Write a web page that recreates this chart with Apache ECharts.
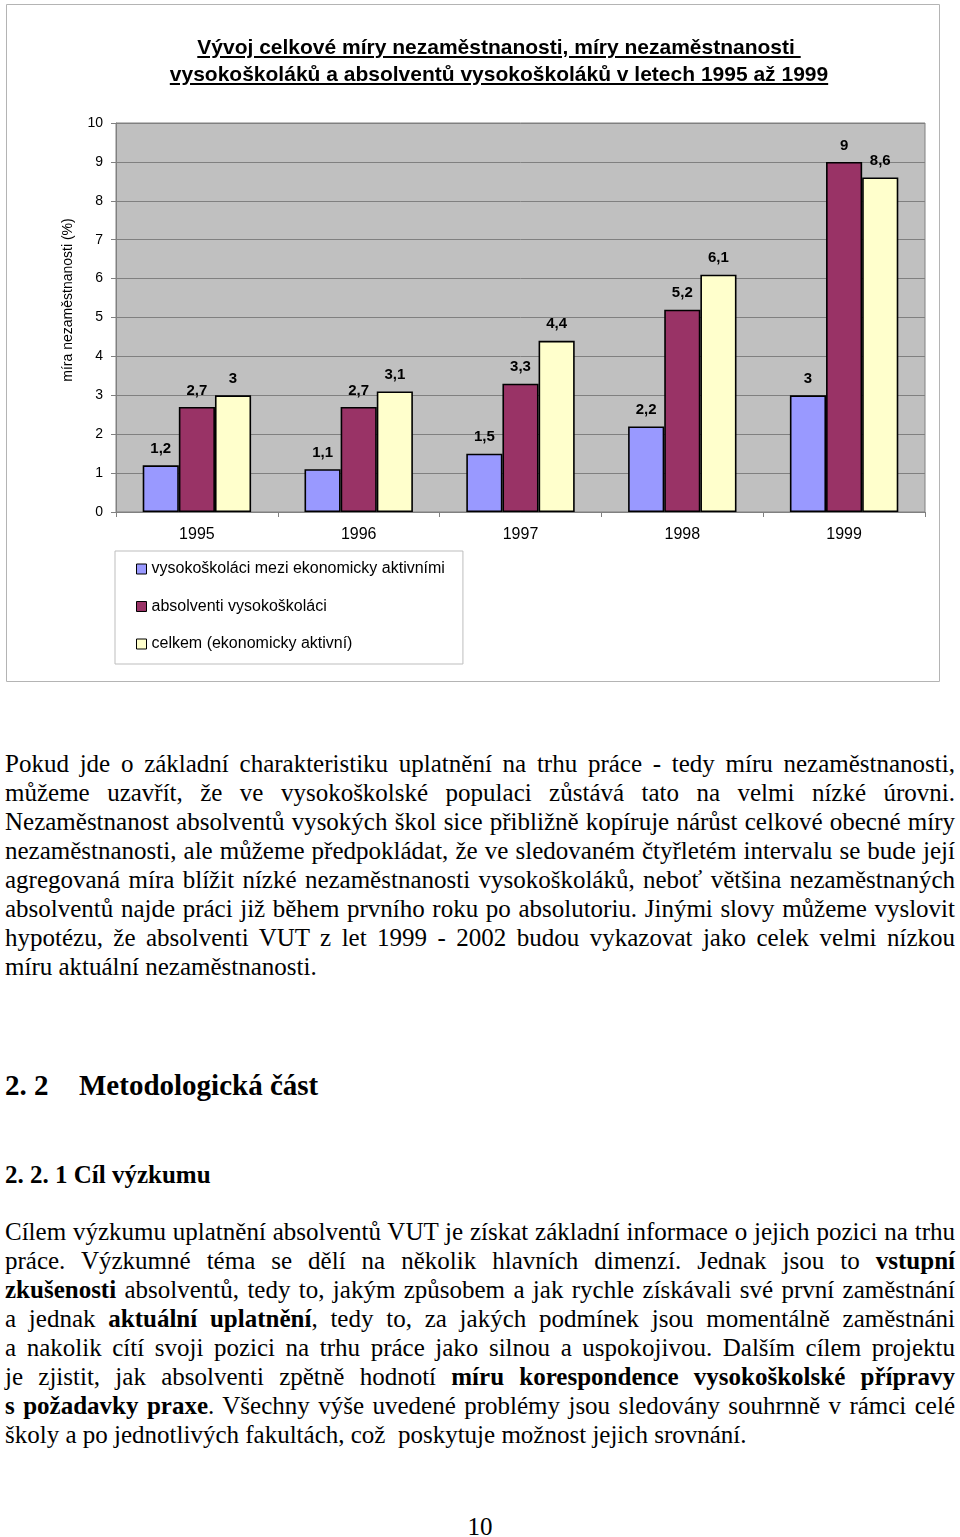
<!DOCTYPE html>
<html>
<head>
<meta charset="utf-8">
<script src="https://cdn.jsdelivr.net/npm/echarts@6/dist/echarts.min.js"></script>
<style>
  html, body { margin: 0; padding: 0; background: #fff; }
  body { width: 960px; height: 1537px; position: relative; overflow: hidden; }
  #chart { position: absolute; left: 0; top: 0; width: 960px; height: 700px; }
  #title { position: absolute; left: 149px; width: 700px; top: 33px; text-align: center;
           font-family: "Liberation Sans", Arial, sans-serif; font-weight: bold; font-size: 21px;
           line-height: 27px; text-decoration: underline; color: #000; white-space: nowrap; }
  .blk { position: absolute; left: 5px; width: 950px; font-family: "Liberation Serif", "Times New Roman", serif; color: #000; }
  .ln { font-size: 25px; line-height: 29px; height: 29px; white-space: nowrap; }
  .ln span { display: inline-block; transform-origin: 0 0; white-space: pre; }
  .h2 { font-size: 29px; line-height: 34px; font-weight: bold; white-space: nowrap; }
  .h2 .num { display: inline-block; width: 74px; }
  .h3 { font-size: 25px; line-height: 29px; font-weight: bold; white-space: nowrap; }
  #pg { position: absolute; left: 0; width: 960px; text-align: center; font-family: "Liberation Serif", "Times New Roman", serif; font-size: 25px; line-height: 29px; }
</style>
</head>
<body>
<div id="chart"></div>
<div id="title">Vývoj celkové míry nezaměstnanosti, míry nezaměstnanosti&nbsp;<br>vysokoškoláků a absolventů vysokoškoláků v letech 1995 až 1999</div>

<div class="blk" id="p1" style="top:749px">
  <div class="ln j"><span>Pokud jde o základní charakteristiku uplatnění na trhu práce - tedy míru nezaměstnanosti,</span></div>
  <div class="ln j"><span>můžeme uzavřít, že ve vysokoškolské populaci zůstává tato na velmi nízké úrovni.</span></div>
  <div class="ln j"><span>Nezaměstnanost absolventů vysokých škol sice přibližně kopíruje nárůst celkové obecné míry</span></div>
  <div class="ln j"><span>nezaměstnanosti, ale můžeme předpokládat, že ve sledovaném čtyřletém intervalu se bude její</span></div>
  <div class="ln j"><span>agregovaná míra blížit nízké nezaměstnanosti vysokoškoláků, neboť většina nezaměstnaných</span></div>
  <div class="ln j"><span>absolventů najde práci již během prvního roku po absolutoriu. Jinými slovy můžeme vyslovit</span></div>
  <div class="ln j"><span>hypotézu, že absolventi VUT z let 1999 - 2002 budou vykazovat jako celek velmi nízkou</span></div>
  <div class="ln"><span>míru aktuální nezaměstnanosti.</span></div>
</div>

<div class="blk h2" style="top:1068px"><span class="num">2. 2</span>Metodologická část</div>
<div class="blk h3" style="top:1160px">2. 2. 1 Cíl výzkumu</div>

<div class="blk" id="p2" style="top:1217px">
  <div class="ln j"><span>Cílem výzkumu uplatnění absolventů VUT je získat základní informace o jejich pozici na trhu</span></div>
  <div class="ln j"><span>práce. Výzkumné téma se dělí na několik hlavních dimenzí. Jednak jsou to <b>vstupní</b></span></div>
  <div class="ln j"><span><b>zkušenosti</b> absolventů, tedy to, jakým způsobem a jak rychle získávali své první zaměstnání</span></div>
  <div class="ln j"><span>a jednak <b>aktuální uplatnění</b>, tedy to, za jakých podmínek jsou momentálně zaměstnáni</span></div>
  <div class="ln j"><span>a nakolik cítí svoji pozici na trhu práce jako silnou a uspokojivou. Dalším cílem projektu</span></div>
  <div class="ln j"><span>je zjistit, jak absolventi zpětně hodnotí <b>míru korespondence vysokoškolské přípravy</b></span></div>
  <div class="ln j"><span><b>s požadavky praxe</b>. Všechny výše uvedené problémy jsou sledovány souhrnně v rámci celé</span></div>
  <div class="ln"><span>školy a po jednotlivých fakultách, což  poskytuje možnost jejich srovnání.</span></div>
</div>

<div id="pg" style="top:1512px">10</div>

<script>
// ---- data ----
const years = ['1995', '1996', '1997', '1998', '1999'];
const seriesNames = ['vysokoškoláci mezi ekonomicky aktivními', 'absolventi vysokoškoláci', 'celkem (ekonomicky aktivní)'];
const graduatesAmongActive = [1.2, 1.1, 1.5, 2.2, 3];
const graduateAlumni = [2.7, 2.7, 3.3, 5.2, 9];
const totalActive = [3, 3.1, 4.4, 6.1, 8.6];
const yMin = 0, yMax = 10, yStep = 1;
const yAxisTitle = 'míra nezaměstnanosti (%)';

const colors = ['#9999FF', '#993366', '#FFFFCC'];
const FONT = '"Liberation Sans", Arial, sans-serif';
const fmt = p => String(p.value).replace('.', ',');

function barSeries(name, data, color) {
  return {
    type: 'bar', name: name, data: data,
    barGap: '0%', barCategoryGap: '33%',
    itemStyle: { color: color, borderColor: '#000', borderWidth: 1.6 },
    label: { show: true, position: 'top', distance: 9, formatter: fmt,
             fontFamily: FONT, fontSize: 15, fontWeight: 'bold', color: '#000' }
  };
}

const chart = echarts.init(document.getElementById('chart'), null, { renderer: 'canvas' });
chart.setOption({
  animation: false,
  backgroundColor: 'transparent',
  textStyle: { fontFamily: FONT },
  grid: { left: 116, top: 123, right: 35, bottom: 188, show: true,
          backgroundColor: '#C0C0C0', borderColor: '#808080', borderWidth: 1 },
  xAxis: {
    type: 'category', data: years,
    axisLine: { show: true, lineStyle: { color: '#808080', width: 1 } },
    axisTick: { show: true, length: 5, lineStyle: { color: '#808080' } },
    axisLabel: { fontFamily: FONT, fontSize: 16, color: '#000', margin: 15 },
    splitLine: { show: false }
  },
  yAxis: {
    type: 'value', min: yMin, max: yMax, interval: yStep,
    axisLine: { show: true, lineStyle: { color: '#808080', width: 1 } },
    axisTick: { show: true, length: 5, lineStyle: { color: '#808080' } },
    axisLabel: { fontFamily: FONT, fontSize: 14, color: '#000', margin: 13 },
    splitLine: { show: true, lineStyle: { color: '#808080', width: 1 } }
  },
  legend: {
    orient: 'vertical', left: 115, top: 551,
    data: seriesNames,
    icon: 'rect', itemWidth: 10, itemHeight: 10, itemGap: 19.5,
    padding: [9, 18, 11, 21],
    borderColor: '#bdbdbd', borderWidth: 1,
    itemStyle: { borderColor: '#000', borderWidth: 1 },
    textStyle: { fontFamily: FONT, fontSize: 16, color: '#000', lineHeight: 18 }
  },
  graphic: [
    { type: 'rect', silent: true, z: -10,
      shape: { x: 6.5, y: 4.5, width: 933, height: 677 },
      style: { fill: 'none', stroke: '#b4b4b4', lineWidth: 1 } },
    { type: 'text', silent: true, x: 68, y: 300, rotation: Math.PI / 2,
      style: { text: yAxisTitle, font: '14px ' + FONT, fill: '#000',
               align: 'center', verticalAlign: 'middle' } }
  ],
  series: [
    barSeries(seriesNames[0], graduatesAmongActive, colors[0]),
    barSeries(seriesNames[1], graduateAlumni, colors[1]),
    barSeries(seriesNames[2], totalActive, colors[2])
  ]
});

// ---- justify text lines to the page width ----
const TARGET = 950;
document.querySelectorAll('.ln').forEach(function (el) {
  const sp = el.querySelector('span');
  const natural = sp.getBoundingClientRect().width;
  if (natural > TARGET) {
    sp.style.transform = 'scaleX(' + (TARGET / natural) + ')';
  } else if (el.classList.contains('j')) {
    const spaces = (sp.textContent.match(/ /g) || []).length;
    if (spaces > 0) sp.style.wordSpacing = ((TARGET - natural) / spaces) + 'px';
  }
});
</script>
</body>
</html>
